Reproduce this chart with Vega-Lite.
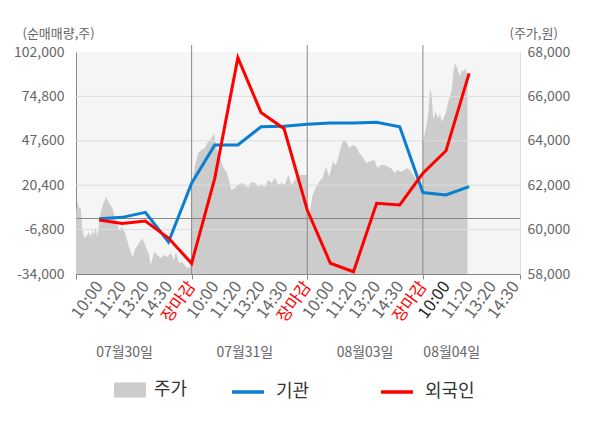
{
 "$schema": "https://vega.github.io/schema/vega-lite/v6.json",
 "width": 444,
 "height": 222,
 "autosize": {"type": "none"},
 "padding": {"left": 76, "top": 52, "right": 80, "bottom": 154},
 "background": "white",
 "config": {"font": "Noto Sans CJK KR", "view": {"fill": "#f5f5f5", "stroke": null},
  "axisBottom": {"labelOverlap": false, "labelAngle": -54, "labelFontSize": 16.5, "labelPadding": 4, "tickSize": 5, "labelBound": false, "labelFlush": false, "grid": false, "domainColor": "#888888", "title": null}},
 "datasets": {
  "price": [
   {"t":0,"p":60730},{"t":0.06,"p":61290},{"t":0.13,"p":60970},{"t":0.2,"p":60970},{"t":0.27,"p":60070},{"t":0.35,"p":59620},{"t":0.49,"p":59760},{"t":0.56,"p":59890},{"t":0.64,"p":59670},{"t":0.71,"p":59980},{"t":0.78,"p":59760},{"t":0.85,"p":60120},{"t":0.92,"p":59670},{"t":1.07,"p":60790},{"t":1.21,"p":61240},{"t":1.31,"p":61470},{"t":1.43,"p":61200},{"t":1.57,"p":60970},{"t":1.72,"p":60430},{"t":1.86,"p":59980},{"t":2.0,"p":60120},{"t":2.15,"p":59760},{"t":2.29,"p":59220},{"t":2.44,"p":58770},{"t":2.58,"p":59170},{"t":2.73,"p":59400},{"t":2.87,"p":59620},{"t":3.02,"p":59220},{"t":3.16,"p":58860},{"t":3.23,"p":58400},{"t":3.38,"p":58990},{"t":3.52,"p":58860},{"t":3.67,"p":58720},{"t":3.81,"p":58860},{"t":3.95,"p":58770},{"t":4.1,"p":58950},{"t":4.24,"p":58630},{"t":4.32,"p":58990},{"t":4.46,"p":58500},{"t":4.6,"p":58540},{"t":4.75,"p":58320},{"t":4.89,"p":58270},{"t":4.96,"p":58500},
   {"t":5.0,"p":61650},{"t":5.07,"p":62380},{"t":5.14,"p":62830},{"t":5.28,"p":63450},{"t":5.43,"p":63590},{"t":5.57,"p":63680},{"t":5.71,"p":63960},{"t":5.86,"p":64130},{"t":5.97,"p":64350},{"t":6.07,"p":63680},{"t":6.22,"p":63230},{"t":6.36,"p":62820},{"t":6.51,"p":62600},{"t":6.58,"p":62330},{"t":6.72,"p":61780},{"t":6.87,"p":61870},{"t":7.01,"p":62010},{"t":7.16,"p":62100},{"t":7.3,"p":62010},{"t":7.45,"p":61870},{"t":7.59,"p":62140},{"t":7.74,"p":62100},{"t":7.88,"p":61920},{"t":8.02,"p":62010},{"t":8.17,"p":61920},{"t":8.31,"p":62230},{"t":8.46,"p":62100},{"t":8.6,"p":62330},{"t":8.74,"p":62010},{"t":8.89,"p":62100},{"t":9.03,"p":62010},{"t":9.18,"p":62460},{"t":9.32,"p":62010},{"t":9.47,"p":62230},{"t":9.61,"p":62460},{"t":9.75,"p":62460},{"t":9.9,"p":62460},{"t":9.98,"p":62460},
   {"t":10.0,"p":60500},{"t":10.09,"p":60660},{"t":10.16,"p":61110},{"t":10.23,"p":61560},{"t":10.38,"p":61930},{"t":10.52,"p":62160},{"t":10.66,"p":62330},{"t":10.81,"p":62830},{"t":10.95,"p":62380},{"t":11.1,"p":63060},{"t":11.24,"p":62910},{"t":11.31,"p":63140},{"t":11.46,"p":63740},{"t":11.57,"p":64040},{"t":11.67,"p":63960},{"t":11.82,"p":63680},{"t":11.96,"p":63810},{"t":12.11,"p":63740},{"t":12.25,"p":63450},{"t":12.39,"p":63280},{"t":12.54,"p":63000},{"t":12.68,"p":63060},{"t":12.9,"p":63140},{"t":13.04,"p":62780},{"t":13.19,"p":62910},{"t":13.33,"p":62910},{"t":13.48,"p":62830},{"t":13.62,"p":62780},{"t":13.77,"p":62550},{"t":13.91,"p":62690},{"t":14.05,"p":62610},{"t":14.2,"p":62690},{"t":14.34,"p":62780},{"t":14.49,"p":62610},{"t":14.63,"p":62380},{"t":14.78,"p":62160},{"t":14.92,"p":61930},{"t":14.99,"p":61780},
   {"t":15.0,"p":63900},{"t":15.09,"p":64350},{"t":15.17,"p":64800},{"t":15.24,"p":65310},{"t":15.31,"p":66380},{"t":15.38,"p":66060},{"t":15.45,"p":64940},{"t":15.53,"p":65310},{"t":15.6,"p":65160},{"t":15.67,"p":65030},{"t":15.74,"p":65250},{"t":15.81,"p":64860},{"t":15.96,"p":65160},{"t":16.1,"p":65760},{"t":16.25,"p":66290},{"t":16.32,"p":67110},{"t":16.39,"p":67490},{"t":16.46,"p":67340},{"t":16.54,"p":67060},{"t":16.61,"p":66890},{"t":16.68,"p":67190},{"t":16.75,"p":67110},{"t":16.83,"p":67270},{"t":16.9,"p":67040},{"t":16.93,"p":67040}
  ],
  "flow": [
   {"t":1,"series":"기관","v":-200},{"t":2,"series":"기관","v":700},{"t":3,"series":"기관","v":3800},{"t":4,"series":"기관","v":-14400},{"t":5,"series":"기관","v":21600},{"t":6,"series":"기관","v":45000},{"t":7,"series":"기관","v":45000},{"t":8,"series":"기관","v":56200},{"t":9,"series":"기관","v":56500},{"t":10,"series":"기관","v":57800},{"t":11,"series":"기관","v":58500},{"t":12,"series":"기관","v":58500},{"t":13,"series":"기관","v":58900},{"t":14,"series":"기관","v":56200},{"t":15,"series":"기관","v":15900},{"t":16,"series":"기관","v":14400},{"t":17,"series":"기관","v":19500},
   {"t":1,"series":"외국인","v":-900},{"t":2,"series":"외국인","v":-3000},{"t":3,"series":"외국인","v":-1600},{"t":4,"series":"외국인","v":-12000},{"t":5,"series":"외국인","v":-27500},{"t":6,"series":"외국인","v":24600},{"t":7,"series":"외국인","v":98500},{"t":8,"series":"외국인","v":65000},{"t":9,"series":"외국인","v":55000},{"t":10,"series":"외국인","v":5200},{"t":11,"series":"외국인","v":-27400},{"t":12,"series":"외국인","v":-32600},{"t":13,"series":"외국인","v":9300},{"t":14,"series":"외국인","v":8300},{"t":15,"series":"외국인","v":27700},{"t":16,"series":"외국인","v":41500},{"t":17,"series":"외국인","v":88900}
  ],
  "grid": [{"v":-6800},{"v":20400},{"v":47600},{"v":74800}],
  "zero": [{"v":0}],
  "days": [{"t":5},{"t":10},{"t":15}],
  "dates": [{"t":2.1,"label":"07월30일"},{"t":7.3,"label":"07월31일"},{"t":12.5,"label":"08월03일"},{"t":16.25,"label":"08월04일"}]
 },
 "layer": [
  {
   "data": {"name": "price"},
   "mark": {"type": "area", "interpolate": "linear", "opacity": 1},
   "encoding": {
    "x": {"field": "t", "type": "quantitative", "scale": {"domain": [0, 19.2], "nice": false, "zero": false},
     "axis": {"title": null, "values": [0,1,2,3,4,5,6,7,8,9,10,11,12,13,14,15,16,17,18,19,19.2],
      "labelExpr": "(datum.value % 1 === 0 && datum.value >= 1) ? ['','10:00','11:20','13:20','14:30','장마감','10:00','11:20','13:20','14:30','장마감','10:00','11:20','13:20','14:30','장마감','10:00','11:20','13:20','14:30'][datum.value] : ''",
      "labelOverlap": false,
      "labelColor": {"condition": [{"test": "datum.value % 5 === 0", "value": "#ff0000"}, {"test": "datum.value === 16", "value": "#222222"}], "value": "#666666"},
      "tickColor": {"condition": {"test": "datum.value % 5 === 0 || datum.value > 19", "value": "#888888"}, "value": "transparent"}}},
    "y": {"field": "p", "type": "quantitative", "scale": {"domain": [58000, 68000], "nice": false, "zero": false},
     "axis": {"orient": "right", "title": "(주가,원)", "values": [58000,60000,62000,64000,66000,68000],
      "labelExpr": "format(datum.value, ',')", "labelFontSize": 14, "labelColor": "#666666", "labelPadding": 7,
      "ticks": false, "grid": false, "domainColor": "#dddddd",
      "titleAngle": 0, "titleAlign": "left", "titleBaseline": "middle", "titleX": -11, "titleY": -19,
      "titleFontSize": 13, "titleFontWeight": "normal", "titleColor": "#666666"}},
    "y2": {"datum": 58000},
    "fill": {"datum": "주가", "type": "nominal",
     "scale": {"domain": ["주가"], "range": ["#cccccc"]},
     "legend": {"orient": "none", "legendX": 38, "legendY": 322, "direction": "horizontal", "title": null,
      "labelFontSize": 18, "labelColor": "#333333", "symbolType": "M-1,-0.47H1V0.47H-1Z", "symbolSize": 1024,
      "symbolStrokeWidth": 0, "symbolOpacity": 1, "labelOffset": 8}}
   }
  },
  {
   "layer": [
    {
     "data": {"name": "grid"},
     "mark": {"type": "rule", "color": "#dddddd", "strokeWidth": 1},
     "encoding": {"y": {"field": "v", "type": "quantitative", "scale": {"domain": [-34000, 102000], "nice": false, "zero": false},
       "axis": {"orient": "left", "title": "(순매매량,주)", "values": [-34000,-6800,20400,47600,74800,102000],
        "labelExpr": "(datum.value < 0 ? '-' : '') + format(abs(datum.value), ',')",
        "labelFontSize": 14, "labelColor": "#666666", "labelPadding": 12, "ticks": false, "grid": false, "domainColor": "#888888",
        "titleAngle": 0, "titleAlign": "left", "titleBaseline": "middle", "titleX": -54, "titleY": -19,
        "titleFontSize": 13, "titleFontWeight": "normal", "titleColor": "#666666"}}}
    },
    {
     "data": {"name": "days"},
     "mark": {"type": "rule", "color": "#888888", "strokeWidth": 1},
     "encoding": {"x": {"field": "t", "type": "quantitative",
       "axis": {"title": null, "values": [0,1,2,3,4,5,6,7,8,9,10,11,12,13,14,15,16,17,18,19,19.2],
        "labelExpr": "(datum.value % 1 === 0 && datum.value >= 1) ? ['','10:00','11:20','13:20','14:30','장마감','10:00','11:20','13:20','14:30','장마감','10:00','11:20','13:20','14:30','장마감','10:00','11:20','13:20','14:30'][datum.value] : ''",
        "labelOverlap": false,
        "labelColor": {"condition": [{"test": "datum.value % 5 === 0", "value": "#ff0000"}, {"test": "datum.value === 16", "value": "#222222"}], "value": "#666666"},
        "tickColor": {"condition": {"test": "datum.value % 5 === 0 || datum.value > 19", "value": "#888888"}, "value": "transparent"}}},
      "y": {"value": -7}, "y2": {"value": 222}}
    },
    {
     "data": {"name": "zero"},
     "mark": {"type": "rule", "color": "#888888", "strokeWidth": 1},
     "encoding": {"y": {"field": "v", "type": "quantitative",
       "axis": {"orient": "left", "title": "(순매매량,주)", "values": [-34000,-6800,20400,47600,74800,102000],
        "labelExpr": "(datum.value < 0 ? '-' : '') + format(abs(datum.value), ',')",
        "labelFontSize": 14, "labelColor": "#666666", "labelPadding": 12, "ticks": false, "grid": false, "domainColor": "#888888",
        "titleAngle": 0, "titleAlign": "left", "titleBaseline": "middle", "titleX": -54, "titleY": -19,
        "titleFontSize": 13, "titleFontWeight": "normal", "titleColor": "#666666"}}}
    },
    {
     "data": {"name": "flow"},
     "mark": {"type": "line", "strokeWidth": 3, "interpolate": "linear"},
     "encoding": {
      "x": {"field": "t", "type": "quantitative",
       "axis": {"title": null, "values": [0,1,2,3,4,5,6,7,8,9,10,11,12,13,14,15,16,17,18,19,19.2],
        "labelExpr": "(datum.value % 1 === 0 && datum.value >= 1) ? ['','10:00','11:20','13:20','14:30','장마감','10:00','11:20','13:20','14:30','장마감','10:00','11:20','13:20','14:30','장마감','10:00','11:20','13:20','14:30'][datum.value] : ''",
        "labelOverlap": false,
        "labelColor": {"condition": [{"test": "datum.value % 5 === 0", "value": "#ff0000"}, {"test": "datum.value === 16", "value": "#222222"}], "value": "#666666"},
        "tickColor": {"condition": {"test": "datum.value % 5 === 0 || datum.value > 19", "value": "#888888"}, "value": "transparent"}}},
      "y": {"field": "v", "type": "quantitative",
       "axis": {"orient": "left", "title": "(순매매량,주)", "values": [-34000,-6800,20400,47600,74800,102000],
        "labelExpr": "(datum.value < 0 ? '-' : '') + format(abs(datum.value), ',')",
        "labelFontSize": 14, "labelColor": "#666666", "labelPadding": 12, "ticks": false, "grid": false, "domainColor": "#888888",
        "titleAngle": 0, "titleAlign": "left", "titleBaseline": "middle", "titleX": -54, "titleY": -19,
        "titleFontSize": 13, "titleFontWeight": "normal", "titleColor": "#666666"}},
      "stroke": {"field": "series", "type": "nominal",
       "scale": {"domain": ["기관", "외국인"], "range": ["#0a7fcf", "#ff0000"]},
       "legend": {"orient": "none", "legendX": 154, "legendY": 322, "direction": "horizontal", "title": null,
        "labelFontSize": 18, "labelColor": "#333333", "symbolType": "stroke", "symbolSize": 1024,
        "symbolStrokeWidth": 3.5, "labelOffset": 10, "columnPadding": 64}}
     }
    },
    {
     "data": {"name": "dates"},
     "mark": {"type": "text", "fontSize": 14, "color": "#666666", "align": "center", "baseline": "middle"},
     "encoding": {"x": {"field": "t", "type": "quantitative",
       "axis": {"title": null, "values": [0,1,2,3,4,5,6,7,8,9,10,11,12,13,14,15,16,17,18,19,19.2],
        "labelExpr": "(datum.value % 1 === 0 && datum.value >= 1) ? ['','10:00','11:20','13:20','14:30','장마감','10:00','11:20','13:20','14:30','장마감','10:00','11:20','13:20','14:30','장마감','10:00','11:20','13:20','14:30'][datum.value] : ''",
        "labelOverlap": false,
        "labelColor": {"condition": [{"test": "datum.value % 5 === 0", "value": "#ff0000"}, {"test": "datum.value === 16", "value": "#222222"}], "value": "#666666"},
        "tickColor": {"condition": {"test": "datum.value % 5 === 0 || datum.value > 19", "value": "#888888"}, "value": "transparent"}}},
      "y": {"value": 301}, "text": {"field": "label"}}
    }
   ]
  }
 ],
 "resolve": {"scale": {"y": "independent"}}
}
